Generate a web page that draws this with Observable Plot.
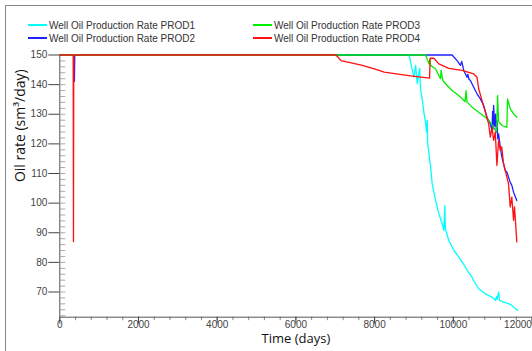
<!DOCTYPE html>
<html><head><meta charset="utf-8">
<script src="https://cdn.jsdelivr.net/npm/d3@7"></script>
<script src="https://cdn.jsdelivr.net/npm/@observablehq/plot@0.6"></script>
<style>
body{margin:0;background:#fff;}
#wrap{position:relative;width:532px;height:351px;overflow:hidden;background:#fff;}
#frame{position:absolute;left:5px;top:5px;width:600px;height:400px;border-left:1px solid #888;border-top:1px solid #888;}
#legend{position:absolute;left:28px;top:18.5px;display:grid;grid-template-columns:225px auto;grid-auto-rows:13px;font:10px "Liberation Sans",Arial,sans-serif;color:#333;}
.item{white-space:nowrap;display:flex;align-items:center;}
.sw{flex:none;display:block;width:19px;height:2px;margin-right:2px;}
#chart{position:absolute;left:0;top:0;}
</style></head>
<body>
<div id="wrap"><div id="frame"></div><div id="chart"></div><div id="legend"></div></div>
<script>
// Series names and colours
const seriesNames = ["Well Oil Production Rate PROD1","Well Oil Production Rate PROD2","Well Oil Production Rate PROD3","Well Oil Production Rate PROD4"];
const seriesColors = ["#00ffff","#2020ff","#00ee00","#ff1010"];

// [time (days), oil rate (sm3/day)]
const prod1 = [[0,150],[8880,150],[8942,145.9],[9000,142.5],[9043,146.5],[9084,140.3],[9145,145.5],[9170,138.0],[9211,135.0],[9254,130.5],[9297,127],[9320,124],[9337,128],[9350,120],[9423,112.2],[9464,106.5],[9550,100.9],[9633,96.4],[9717,93.1],[9760,90.8],[9785,99.2],[9800,91],[9818,90.5],[9886,87.4],[10013,84.1],[10139,81.8],[10309,78.4],[10392,76.5],[10476,75.0],[10519,73.8],[10645,71.1],[10815,69.4],[10982,68.3],[11068,67.2],[11100,68.5],[11115,67.5],[11151,70.0],[11176,67.2],[11278,66.6],[11404,66.1],[11488,65.5],[11573,64.4],[11631,63.8]];
const prod2 = [[0,150],[365,150],[372,141.1],[380,150],[9970,150],[10097,148.1],[10182,146.5],[10215,147.8],[10266,144.8],[10349,142.5],[10370,143.5],[10392,142],[10435,141.4],[10519,139.1],[10603,136.9],[10688,135.2],[10772,133.0],[10855,129.0],[10941,126.8],[10982,124.5],[11000,131],[11010,125],[11025,133],[11050,126],[11075,130],[11093,124],[11108,128],[11130,121.7],[11151,123.4],[11193,118.9],[11235,115.5],[11321,111],[11361,110.5],[11447,107],[11488,106],[11531,103.7],[11614,100.9]];
const prod3 = [[0,150],[9297,150],[9380,147],[9405,148.5],[9423,146.5],[9550,145.3],[9633,143.1],[9676,142],[9690,144.8],[9734,141.4],[9803,140.3],[9970,138],[10139,136.3],[10266,134.7],[10300,134.2],[10324,138],[10349,134.1],[10476,132.4],[10645,130.7],[10815,129],[10941,127.3],[11025,125.6],[11068,124.5],[11100,124.2],[11126,136.3],[11151,127.5],[11235,126.2],[11361,125.6],[11379,135.2],[11447,131.8],[11531,130.2],[11614,129.0]];
const prod4 = [[0,150],[340,150],[347,87],[355,150],[7020,150],[7146,148.1],[7692,146.5],[8115,144.8],[8241,144.2],[8957,142.9],[9398,142.2],[9410,148.9],[9507,148.9],[9633,147.0],[9886,145.5],[10223,144.8],[10519,143.6],[10603,142.5],[10645,138.6],[10729,134.7],[10815,130.7],[10898,126.8],[10941,122.3],[10983,125.6],[11025,121.2],[11067,124],[11108,112.7],[11151,121.2],[11193,117.8],[11230,119],[11278,113.3],[11321,111],[11404,106.5],[11447,98.7],[11488,102],[11531,94.2],[11556,98.7],[11614,86.9]];
const allSeries = [prod1, prod2, prod3, prod4];

// Ticks
const xMajor = [0,2000,4000,6000,8000,10000,12000];
const xMinor = d3.range(0, 12001, 400);
const yMajor = [70,80,90,100,110,120,130,140,150];
const yMinor = d3.range(62, 151, 2);
const xTitle = "Time (days)";
const yTitle = "Oil rate (sm³/day)";

const xDomain = [0, 12000];
const yDomain = [61.5, 150];

const titleFont = '"Open Sans", "Segoe UI", sans-serif';

const chart = Plot.plot({
  width: 532, height: 351,
  marginLeft: 59.3, marginRight: 0.5, marginTop: 54.5, marginBottom: 34.3,
  x: {domain: xDomain},
  y: {domain: yDomain},
  style: {fontFamily: '"Liberation Sans", Arial, sans-serif', background: "transparent", overflow: "visible"},
  marks: [
    Plot.axisY(yMinor, {anchor: "right", frameAnchor: "left", tickSize: 5, text: null, label: null, stroke: "#aaa"}),
    Plot.axisY(yMajor, {tickSize: 11, tickPadding: 1.5, fontSize: 10, fill: "#444", stroke: "#444", label: null}),
    Plot.axisX(xMinor, {tickSize: 3.5, text: null, label: null, stroke: "#888"}),
    Plot.axisX(xMajor, {tickSize: 7, text: null, label: null, stroke: "#444"}),
    Plot.axisX(xMajor.slice(0, -1), {tickSize: 0, tickPadding: 3.5, fontSize: 10, fill: "#444", label: null, tickFormat: d => `${d}`}),
    Plot.axisX(xMajor.slice(-1), {tickSize: 0, tickPadding: 3.5, dx: -14, fontSize: 10, fill: "#444", label: null, tickFormat: d => `${d}`}),
    Plot.ruleX([xDomain[0]], {stroke: "#555"}),
    Plot.ruleY([yDomain[0]], {stroke: "#555"}),
    ...allSeries.map((s, i) => Plot.line(s, {x: d => d[0], y: d => d[1], stroke: seriesColors[i], strokeWidth: 1.3})),
    Plot.text([yTitle], {frameAnchor: "left", rotate: -90, dx: -39, dy: -4, fontSize: 14, fontFamily: titleFont, fill: "#111"}),
    Plot.text([xTitle], {frameAnchor: "bottom", dy: 26, fontSize: 13, fontFamily: titleFont, fill: "#111"})
  ]
});
document.getElementById("chart").appendChild(chart);

const legend = document.getElementById("legend");
[0, 2, 1, 3].forEach(i => {
  const it = document.createElement("div");
  it.className = "item";
  const sw = document.createElement("span");
  sw.className = "sw";
  sw.style.background = seriesColors[i];
  it.appendChild(sw);
  it.appendChild(document.createTextNode(seriesNames[i]));
  legend.appendChild(it);
});
</script>
</body></html>
